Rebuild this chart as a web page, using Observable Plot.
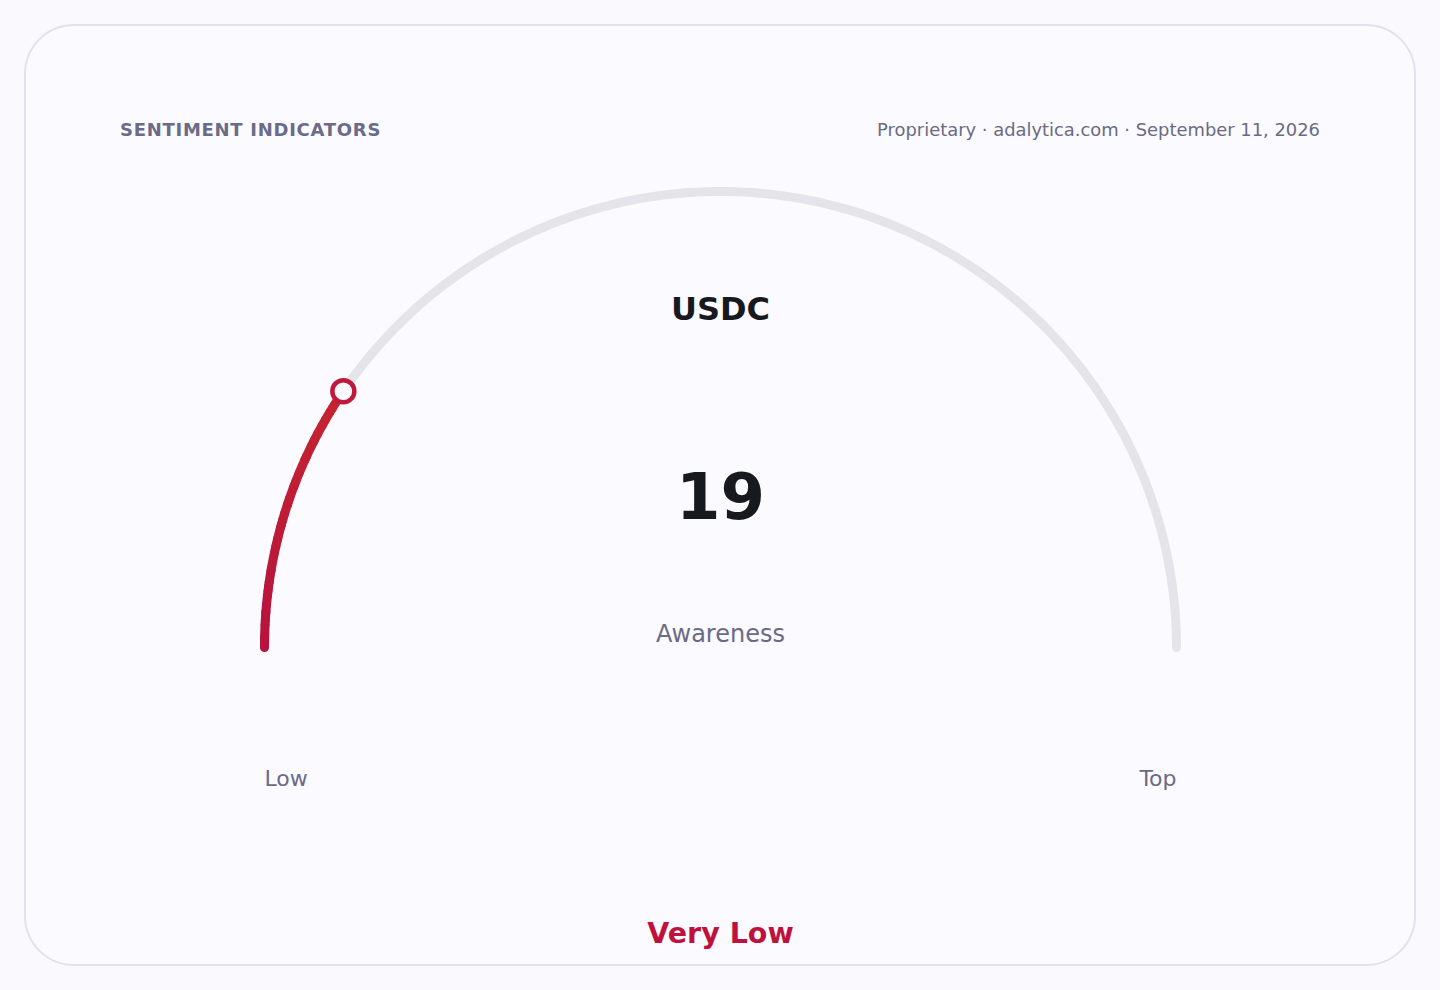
<!DOCTYPE html>
<html>
<head>
<meta charset="utf-8">
<script src="https://cdn.jsdelivr.net/npm/d3@7"></script>
<script src="https://cdn.jsdelivr.net/npm/@observablehq/plot@0.6"></script>
<style>
  html, body { margin: 0; padding: 0; width: 1440px; height: 990px; background: #f9f9fe; overflow: hidden; font-family: "DejaVu Sans", sans-serif; }
  #card { position: absolute; left: 24px; top: 24px; width: 1392px; height: 942px; box-sizing: border-box; border: 2px solid #e2e2ee; border-radius: 50px; background: #fafaff; }
  #title { position: absolute; left: 120px; top: 118px; font-size: 18px; font-weight: bold; letter-spacing: 0.04em; color: #6b6a88; line-height: 24px; }
  #source { position: absolute; right: 120px; top: 118px; font-size: 17.9px; color: #6b6a82; line-height: 24px; }
  #chart { position: absolute; left: 0; top: 0; }
</style>
</head>
<body>
<div id="card"></div>
<div id="title">SENTIMENT INDICATORS</div>
<div id="source">Proprietary · adalytica.com · September 11, 2026</div>
<div id="chart"></div>
<script>
// ---- data ----
const assetNames = ["USDC"];
const metricNames = ["Awareness"];
const values = [19];
const scaleDomain = [0, 100];
const lowLabels = ["Low"];
const topLabels = ["Top"];
const ratingLabels = ["Very Low"];

// ---- layout (pixels) ----
const W = 1440, H = 990, CX = 720, CY = 647, R = 456;
const py = (p) => (CY - p) / R;   // pixel row -> gauge units
const angleOf = (v) => Math.PI - Math.PI * (v - scaleDomain[0]) / (scaleDomain[1] - scaleDomain[0]);

const value = values[0];

// track: the full semicircle (geometry sampling of the scale domain)
const track = d3.range(0, 181).map(i => {
  const v = scaleDomain[0] + (scaleDomain[1] - scaleDomain[0]) * i / 180;
  const a = angleOf(v);
  return {x: Math.cos(a), y: Math.sin(a)};
});
// value arc
const steps = 120;
const valueArc = d3.range(0, steps + 1).map(i => {
  const v = scaleDomain[0] + (value - scaleDomain[0]) * i / steps;
  const a = angleOf(v);
  return {x: Math.cos(a), y: Math.sin(a), t: i / steps};
});
const endPoint = [{x: Math.cos(angleOf(value)), y: Math.sin(angleOf(value))}];

const plot = Plot.plot({
  width: W,
  height: H,
  margin: 0,
  style: {background: "transparent", fontFamily: "DejaVu Sans, sans-serif", overflow: "visible"},
  x: {domain: [-CX / R, (W - CX) / R], axis: null},
  y: {domain: [-(H - CY) / R, CY / R], axis: null},
  color: {type: "linear", domain: [0, 1], range: ["#b8123f", "#c4252f"], legend: false},
  marks: [
    Plot.line(track, {x: "x", y: "y", stroke: "#e4e4ea", strokeWidth: 9, strokeLinecap: "round", curve: "linear"}),
    Plot.line(valueArc, {x: "x", y: "y", z: null, stroke: "t", strokeWidth: 9, strokeLinecap: "round", curve: "linear"}),
    Plot.dot(endPoint, {x: "x", y: "y", r: 11, fill: "#fbfbff", stroke: "#bf1a3b", strokeWidth: 4.5}),
    Plot.text(assetNames, {x: 0, y: py(309), text: d => d, fontSize: 32, fontWeight: "bold", fill: "#18181f", textAnchor: "middle", lineAnchor: "middle"}),
    Plot.text(values, {x: 0, y: py(498), text: d => String(d), fontSize: 64, fontWeight: "bold", fill: "#18181f", textAnchor: "middle", lineAnchor: "middle"}),
    Plot.text(metricNames, {x: 0, y: py(634), text: d => d, fontSize: 24, fill: "#6b6a85", textAnchor: "middle", lineAnchor: "middle"}),
    Plot.text(lowLabels, {x: -1, y: py(778), text: d => d, fontSize: 22, fill: "#6b6a85", textAnchor: "start", lineAnchor: "middle"}),
    Plot.text(topLabels, {x: 1, y: py(778), text: d => d, fontSize: 22, fill: "#6b6a85", textAnchor: "end", lineAnchor: "middle"}),
    Plot.text(ratingLabels, {x: 0, y: py(933), text: d => d, fontSize: 28.5, fontWeight: "bold", fill: "#be123c", textAnchor: "middle", lineAnchor: "middle"})
  ]
});
document.getElementById("chart").appendChild(plot);
</script>
</body>
</html>
